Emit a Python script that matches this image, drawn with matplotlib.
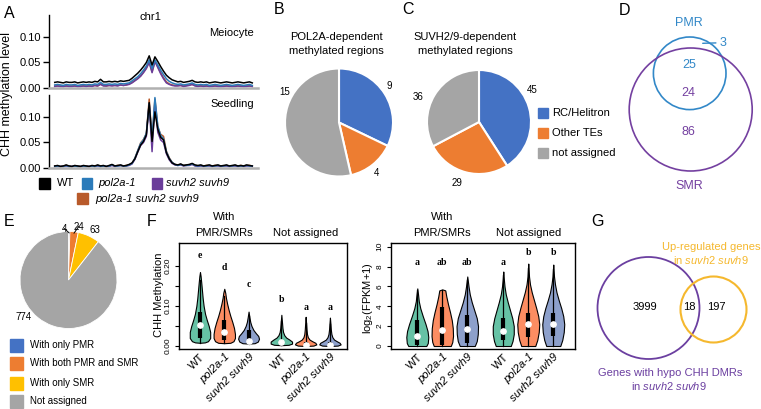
import numpy as np
import matplotlib
matplotlib.use("Agg")
from matplotlib import pyplot as plt
from matplotlib.patches import Rectangle, Circle

plt.rcParams['font.family'] = ['Liberation Sans', 'DejaVu Sans']
plt.rcParams['mathtext.fontset'] = 'custom'
plt.rcParams['mathtext.rm'] = 'Liberation Sans'
plt.rcParams['mathtext.it'] = 'Liberation Sans:italic'

W, H = 761, 409

# ---------------- data ----------------
genotypes = ['WT', 'pol2a-1', 'suvh2 suvh9', 'pol2a-1 suvh2 suvh9']
geno_colors = ['#000000', '#2b7bba', '#6a3d9a', '#b85a2a']

# A: CHH methylation along chr1 (values x 1000), meiocyte
mei_wt = [11, 12, 11, 10, 12, 11, 11, 12, 10, 11, 12, 11, 12, 11, 13, 12, 17, 12, 12, 13,
          12, 13, 12, 14, 13, 14, 15, 19, 24, 29, 35, 42, 50, 63, 45, 61, 52, 42, 33, 25,
          20, 16, 14, 12, 13, 11, 12, 13, 15, 12, 11, 12, 11, 12, 10, 11, 12, 11, 10, 11,
          12, 11, 10, 11, 12, 11, 10, 11, 12, 10]
mei_pol = [6, 7, 6, 5, 7, 6, 6, 7, 5, 6, 7, 6, 7, 6, 8, 7, 11, 7, 7, 8,
           7, 8, 7, 9, 8, 9, 10, 14, 18, 22, 28, 35, 43, 55, 38, 55, 45, 35, 26, 18,
           13, 10, 8, 7, 8, 6, 7, 8, 10, 7, 6, 7, 6, 7, 5, 6, 7, 6, 5, 6,
           7, 6, 5, 6, 7, 6, 5, 6, 7, 5]
mei_suv = [3, 4, 3, 3, 4, 3, 3, 4, 3, 3, 4, 3, 4, 3, 5, 4, 7, 4, 4, 5,
           4, 5, 4, 6, 5, 6, 7, 10, 14, 18, 23, 30, 38, 50, 30, 52, 40, 28, 18, 10,
           7, 5, 4, 4, 5, 3, 4, 5, 7, 4, 3, 4, 3, 4, 3, 3, 4, 3, 3, 3,
           4, 3, 3, 3, 4, 3, 3, 3, 4, 3]
mei_tri = [4, 4, 4, 3, 4, 4, 4, 4, 3, 4, 4, 4, 4, 4, 5, 4, 8, 5, 4, 5,
           5, 5, 5, 6, 5, 6, 8, 11, 15, 19, 24, 31, 40, 51, 32, 52, 42, 30, 20, 12,
           8, 6, 5, 5, 5, 4, 5, 6, 7, 5, 4, 4, 4, 4, 3, 4, 4, 4, 3, 4,
           4, 4, 3, 4, 4, 4, 3, 4, 4, 3]
# seedling
sdl_wt = [4, 5, 3, 4, 6, 4, 3, 5, 4, 3, 5, 4, 3, 5, 4, 6, 4, 5, 3, 5,
          7, 4, 5, 6, 4, 5, 7, 10, 18, 32, 45, 52, 65, 128, 52, 110, 76, 60, 55, 30,
          18, 10, 7, 6, 8, 5, 6, 7, 9, 6, 5, 6, 4, 5, 6, 4, 5, 6, 4, 5,
          6, 4, 5, 6, 4, 5, 4, 6, 5, 4]
sdl_pol = [3, 4, 3, 3, 5, 3, 3, 4, 3, 3, 4, 3, 3, 4, 3, 5, 3, 4, 3, 4,
           6, 4, 4, 5, 4, 4, 6, 9, 19, 34, 48, 55, 68, 126, 58, 138, 82, 64, 57, 32,
           19, 11, 7, 5, 7, 5, 5, 6, 8, 5, 4, 5, 4, 4, 5, 4, 4, 5, 4, 4,
           5, 4, 4, 5, 4, 4, 4, 5, 4, 4]
sdl_suv = [3, 3, 3, 3, 4, 3, 3, 4, 3, 3, 3, 3, 3, 4, 3, 4, 3, 4, 3, 3,
           5, 3, 4, 5, 4, 4, 5, 8, 17, 31, 44, 50, 62, 125, 32, 130, 70, 55, 50, 28,
           16, 9, 6, 5, 6, 4, 5, 5, 7, 4, 3, 4, 3, 4, 4, 3, 4, 4, 3, 4,
           4, 3, 4, 4, 3, 4, 3, 4, 4, 3]
sdl_tri = [4, 4, 3, 4, 5, 4, 3, 4, 4, 3, 4, 4, 3, 4, 4, 5, 4, 4, 3, 4,
           6, 4, 5, 5, 4, 5, 6, 9, 19, 34, 49, 56, 67, 135, 54, 135, 80, 66, 62, 33,
           20, 11, 7, 6, 7, 5, 6, 6, 8, 5, 4, 5, 4, 5, 5, 4, 5, 5, 4, 4,
           5, 4, 4, 5, 4, 5, 4, 5, 5, 4]

# B, C: pies
pie_colors = ['#4472c4', '#ed7d31', '#a5a5a5']
b_values = [9, 4, 15]
c_values = [45, 29, 36]
c_labels = ['RC/Helitron', 'Other TEs', 'not assigned']

# D: venn PMR / SMR
d_counts = [3, 25, 24, 86]

# E: pie
e_values = [4, 24, 63, 774]
e_labels = ['With only PMR', 'With both PMR and SMR', 'With only SMR', 'Not assigned']
e_colors = ['#4472c4', '#ed7d31', '#ffc000', '#a5a5a5']

# F: violins
vio_colors = ['#66c2a5', '#fc8d62', '#8da0cb'] * 2
vio_labels = ['WT', 'pol2a-1', 'suvh2 suvh9'] * 2
# profiles: (level, half width)
chh_profiles = [
    [(0.008, 0.0), (0.009, 0.2), (0.012, 0.33), (0.02, 0.42), (0.035, 0.42), (0.05, 0.36),
     (0.065, 0.28), (0.08, 0.21), (0.10, 0.15), (0.12, 0.11), (0.14, 0.08), (0.16, 0.05),
     (0.175, 0.025), (0.185, 0.0)],
    [(0.007, 0.0), (0.008, 0.25), (0.012, 0.38), (0.02, 0.44), (0.03, 0.44), (0.045, 0.40),
     (0.06, 0.33), (0.075, 0.25), (0.09, 0.18), (0.105, 0.12), (0.12, 0.07), (0.133, 0.04),
     (0.143, 0.0)],
    [(0.006, 0.0), (0.007, 0.25), (0.011, 0.38), (0.018, 0.43), (0.025, 0.40), (0.032, 0.30),
     (0.04, 0.2), (0.05, 0.12), (0.06, 0.07), (0.072, 0.035), (0.086, 0.0)],
    [(0.002, 0.0), (0.003, 0.3), (0.006, 0.44), (0.011, 0.44), (0.016, 0.33), (0.021, 0.2),
     (0.027, 0.12), (0.035, 0.07), (0.045, 0.045), (0.06, 0.025), (0.078, 0.0)],
    [(0.0, 0.0), (0.001, 0.32), (0.004, 0.44), (0.008, 0.40), (0.012, 0.27), (0.016, 0.16),
     (0.022, 0.09), (0.03, 0.055), (0.042, 0.035), (0.056, 0.02), (0.073, 0.0)],
    [(0.0, 0.0), (0.001, 0.32), (0.004, 0.44), (0.008, 0.40), (0.012, 0.28), (0.016, 0.17),
     (0.022, 0.1), (0.03, 0.06), (0.042, 0.035), (0.056, 0.02), (0.071, 0.0)],
]
# (low, q1, median, q3, high)
chh_stats = [(0.008, 0.02, 0.052, 0.085, 0.165), (0.008, 0.015, 0.035, 0.065, 0.125),
             (0.006, 0.007, 0.012, 0.04, 0.075), (0.002, 0.003, 0.01, 0.016, 0.062),
             (0.001, 0.002, 0.003, 0.01, 0.058), (0.001, 0.002, 0.003, 0.01, 0.056)]
chh_letters = ['e', 'd', 'c', 'b', 'a', 'a']
chh_letter_y = [0.225, 0.197, 0.154, 0.1175, 0.096, 0.096]

fpkm_profiles = [
    [(0, 0.36), (0.3, 0.42), (0.9, 0.44), (1.5, 0.41), (2.2, 0.33), (3.0, 0.22), (3.8, 0.12),
     (4.5, 0.06), (5.2, 0.03), (5.8, 0.0)],
    [(0, 0.34), (0.4, 0.40), (1.0, 0.43), (1.8, 0.42), (2.6, 0.38), (3.4, 0.31), (4.2, 0.23),
     (5.0, 0.16), (5.6, 0.12), (5.7, 0.0)],
    [(0, 0.30), (0.5, 0.38), (1.2, 0.42), (2.0, 0.43), (2.8, 0.38), (3.6, 0.28), (4.4, 0.18),
     (5.2, 0.10), (6.0, 0.05), (6.5, 0.025), (7.0, 0.0)],
    [(0, 0.30), (0.5, 0.37), (1.2, 0.42), (2.0, 0.42), (2.8, 0.36), (3.6, 0.27), (4.4, 0.18),
     (5.2, 0.10), (6.0, 0.05), (6.8, 0.02), (7.5, 0.0)],
    [(0, 0.28), (0.6, 0.36), (1.4, 0.42), (2.2, 0.44), (3.0, 0.40), (3.8, 0.32), (4.6, 0.23),
     (5.4, 0.14), (6.2, 0.07), (7.0, 0.03), (7.7, 0.015), (8.3, 0.0)],
    [(0, 0.28), (0.6, 0.36), (1.4, 0.42), (2.2, 0.44), (3.0, 0.40), (3.8, 0.32), (4.6, 0.22),
     (5.4, 0.13), (6.2, 0.07), (7.0, 0.03), (7.6, 0.015), (8.2, 0.0)],
]
fpkm_stats = [(0.0, 0.1, 1.05, 2.6, 5.6), (0.0, 0.15, 1.65, 3.9, 5.6), (0.0, 0.3, 1.75, 3.1, 6.6),
              (0.0, 0.6, 1.5, 2.8, 7.1), (0.0, 0.9, 2.2, 3.3, 7.9), (0.0, 1.0, 2.2, 3.3, 7.8)]
fpkm_letters = ['a', 'ab', 'ab', 'a', 'b', 'b']
fpkm_letter_y = [8.36, 8.36, 8.36, 8.36, 9.37, 9.37]

# G: venn
g_counts = [3999, 18, 197]

# ---------------- figure ----------------
fig = plt.figure(figsize=(W / 100, H / 100), dpi=100)


def px_box(l, t, r, b):
    return [l / W, 1 - b / H, (r - l) / W, (b - t) / H]


# ---- A ----
for (top, bot), series in (((15, 88), (mei_tri, mei_suv, mei_pol, mei_wt)),
                           ((95, 168), (sdl_tri, sdl_suv, sdl_pol, sdl_wt))):
    ax = fig.add_axes(px_box(49, top, 258, bot))
    x = np.arange(len(series[0]))
    for s, c in zip(series, geno_colors[::-1]):
        ax.plot(x, np.array(s) / 1000, color=c, lw=1.1)
    ax.set_xlim(-2, len(x) + 1)
    ax.set_ylim(0, 0.143)
    ax.set_yticks([0, 0.05, 0.10], ['0.00', '0.05', '0.10'])
    ax.set_xticks([])
    for sp in ('top', 'right'):
        ax.spines[sp].set_visible(False)
    ax.spines['bottom'].set_color('#b0b0b0')
    ax.spines['bottom'].set_linewidth(1.8)
    ax.spines['left'].set_linewidth(1.0)
    ax.tick_params(axis='y', length=4, width=1, pad=1.5, labelsize=8)
    ax.patch.set_visible(False)


# ---- pies ----
def pie_axes(cx, cy, r):
    return fig.add_axes(px_box(cx - 1.3 * r, cy - 1.3 * r, cx + 1.3 * r, cy + 1.3 * r))


pie_specs = [(339, 122.5, 54, b_values, pie_colors, 1.5),
             (479, 122, 52, c_values, pie_colors, 1.5),
             (68.5, 280, 48.5, e_values, e_colors, 0.6)]
pie_axes_list = []
for cx, cy, r, vals, cols, elw in pie_specs:
    ax = pie_axes(cx, cy, r)
    wedges, _ = ax.pie(vals, colors=cols, startangle=90, counterclock=False,
                       wedgeprops=dict(edgecolor='white', linewidth=elw))
    ax.set_xlim(-1.3, 1.3)
    ax.set_ylim(-1.3, 1.3)
    pie_axes_list.append((ax, wedges, cx, cy, r))

# E leader lines
axE, wedE, cxE, cyE, rE = pie_axes_list[2]
for i, (lx, ly) in zip((0, 1), ((64.3, 228.5), (78.7, 226.5))):
    w = wedE[i]
    ang = np.deg2rad((w.theta1 + w.theta2) / 2)
    axE.annotate(str(e_values[i]), xy=(0.97 * np.cos(ang), 0.97 * np.sin(ang)),
                 xytext=((lx - cxE) / rE, -(ly - cyE) / rE), ha='center', va='center',
                 fontsize=7, annotation_clip=False,
                 arrowprops=dict(arrowstyle='-', lw=0.7, color='black', shrinkA=0, shrinkB=0))


# ---- F violins ----
def violin_panel(box, xlim, ylim, positions, profiles, stats, letters, letter_y,
                 yticks, yticklabels):
    ax = fig.add_axes(px_box(*box))
    for pos, prof, st, col in zip(positions, profiles, stats, vio_colors):
        lv = np.array([p[0] for p in prof])
        hw = np.array([p[1] for p in prof])
        ax.fill_betweenx(lv, pos - hw, pos + hw, facecolor=col, edgecolor='black', lw=0.8)
        lo, q1, med, q3, hi = st
        ax.plot([pos, pos], [lo, hi], color='black', lw=0.9)
        ax.plot([pos, pos], [q1, q3], color='black', lw=3, solid_capstyle='butt')
        ax.plot(pos, med, 'o', color='white', ms=3.8, mec='white')
    for pos, let, ly in zip(positions, letters, letter_y):
        ax.text(pos, ly, let, ha='center', va='center', fontsize=7,
                family='Liberation Serif', fontweight='bold')
    ax.set_xlim(*xlim)
    ax.set_ylim(*ylim)
    ax.set_yticks(yticks, yticklabels)
    for t in ax.get_yticklabels():
        t.set_rotation(90)
        t.set_va('center')
    ax.tick_params(axis='y', length=3, width=0.8, pad=2, labelsize=6)
    ax.set_xticks(positions, vio_labels)
    ax.tick_params(axis='x', length=0, pad=2, labelsize=8)
    for t in ax.get_xticklabels():
        t.set_rotation(45)
        t.set_ha('right')
        t.set_rotation_mode('anchor')
        if t.get_text() != 'WT':
            t.set_fontstyle('italic')
    for sp in ax.spines.values():
        sp.set_linewidth(1.0)
    tr = ax.get_xaxis_transform()
    ax.text(positions[1], 1.245, 'With', transform=tr, ha='center', va='center', fontsize=8)
    ax.text(positions[1], 1.094, 'PMR/SMRs', transform=tr, ha='center', va='center', fontsize=8)
    ax.text(positions[4], 1.094, 'Not assigned', transform=tr, ha='center', va='center',
            fontsize=8)
    return ax


violin_panel((179, 243, 346.7, 349), (0.136, 7.04), (-0.0075, 0.2575),
             [1, 2, 3, 4.35, 5.35, 6.35], chh_profiles, chh_stats, chh_letters, chh_letter_y,
             [0, 0.05, 0.10, 0.15, 0.20], ['0.00', '', '0.10', '', '0.20'])
violin_panel((390.7, 243, 575, 349), (-0.064, 7.31), (-0.3, 10.37),
             [1, 2, 3, 4.44, 5.44, 6.44], fpkm_profiles, fpkm_stats, fpkm_letters, fpkm_letter_y,
             [0, 2, 4, 6, 8, 10], ['0', '2', '4', '6', '8', '10'])

# ---------------- overlay (texts, legends, venns) ----------------
ov = fig.add_axes([0, 0, 1, 1])
ov.set_xlim(0, W)
ov.set_ylim(H, 0)
ov.axis('off')


def txt(x, y, s, **kw):
    kw.setdefault('ha', 'center')
    kw.setdefault('va', 'center')
    ov.text(x, y, s, **kw)


for letter, (lx, ly) in zip('ABCDEFG', [(9.5, 13), (279.5, 10), (408, 10), (624, 10.5),
                                        (8.7, 221), (151.7, 221), (598, 222)]):
    txt(lx, ly, letter, fontsize=11.5)

# A texts and legend
txt(7.5, 93.5, 'CHH methylation level', fontsize=9, rotation=90)
txt(150, 17.3, 'chr1', fontsize=8)
txt(231.7, 33.3, 'Meiocyte', fontsize=8)
txt(232.5, 104.3, 'Seedling', fontsize=8)
legA = [(39.3, 183.3, 56.5), (81.7, 183.3, 98.5), (151.7, 183.3, 165.7), (77.3, 198.7, 95)]
for (sx, sy, tx), g, c in zip(legA, genotypes, geno_colors):
    ov.add_patch(Rectangle((sx, sy - 5.3), 10.7, 10.7, color=c))
    txt(tx, sy, g, ha='left', fontsize=8, fontstyle='normal' if g == 'WT' else 'italic')

# B / C titles and labels
txt(336.5, 36.7, 'POL2A-dependent', fontsize=8)
txt(336.5, 50.7, 'methylated regions', fontsize=8)
txt(465, 36.7, 'SUVH2/9-dependent', fontsize=8)
txt(465, 50.7, 'methylated regions', fontsize=8)
for v, (lx, ly) in zip(b_values, [(389.3, 86), (376.7, 173.3), (285, 91.7)]):
    txt(lx, ly, str(v), fontsize=7)
for v, (lx, ly) in zip(c_values, [(531.7, 90), (456.7, 182.7), (418, 96.7)]):
    txt(lx, ly, str(v), fontsize=7)
for i, (lab, col) in enumerate(zip(c_labels, pie_colors)):
    y = 113 + 20 * i
    ov.add_patch(Rectangle((538, y - 5), 10, 10, color=col))
    txt(552, y, lab, ha='left', fontsize=8)

# D venn
d_blue, d_purple = '#3288c8', '#7440a0'
ov.add_patch(Circle((689.7, 73.3), 36.3, fill=False, ec=d_blue, lw=1.2))
ov.add_patch(Circle((690.7, 109.5), 61.5, fill=False, ec=d_purple, lw=1.2))
txt(689.3, 22.7, 'PMR', fontsize=9, color=d_blue)
txt(689.7, 186, 'SMR', fontsize=9, color=d_purple)
ov.annotate(str(d_counts[0]), xy=(702.7, 43.3), xytext=(723.5, 42.7), ha='center', va='center',
            fontsize=9, color=d_blue,
            arrowprops=dict(arrowstyle='-', color=d_blue, lw=1, shrinkA=1, shrinkB=0))
txt(688.8, 65, str(d_counts[1]), fontsize=9, color=d_blue)
txt(688.8, 93.3, str(d_counts[2]), fontsize=9, color=d_purple)
txt(688.8, 132.3, str(d_counts[3]), fontsize=9, color=d_purple)

# E labels and legend
for v, (lx, ly) in zip(e_values[2:], [(95, 230), (23.3, 317)]):
    txt(lx, ly, str(v), fontsize=7)
for i, (lab, col) in enumerate(zip(e_labels, e_colors)):
    y = [345, 363.5, 383, 401][i]
    ov.add_patch(Rectangle((10, y - 6.5), 13.3, 13.3, color=col))
    txt(30, y, lab, ha='left', fontsize=7)

# F y labels
txt(159, 295, 'CHH Methylation', fontsize=8, rotation=90)
txt(368, 298, r'log$_{\mathregular{2}}$(FPKM+1)', fontsize=8, rotation=90)

# G venn
g_purple, g_yellow = '#6b3fa0', '#f5b82e'
ov.add_patch(Circle((648.5, 308), 51, fill=False, ec=g_purple, lw=1.3))
ov.add_patch(Circle((713.5, 309.5), 33, fill=False, ec=g_yellow, lw=1.5))
for v, lx in zip(g_counts, (645, 689.8, 716.7)):
    txt(lx, 307.3, str(v), fontsize=8)
txt(711, 246.7, 'Up-regulated genes', fontsize=8, color=g_yellow)
txt(711, 259.5, r'in $\mathit{suvh2\ suvh9}$', fontsize=8, color=g_yellow)
txt(670, 373.3, 'Genes with hypo CHH DMRs', fontsize=8, color=g_purple)
txt(669, 386, r'in $\mathit{suvh2\ suvh9}$', fontsize=8, color=g_purple)

fig.savefig('out.png', dpi=100)
